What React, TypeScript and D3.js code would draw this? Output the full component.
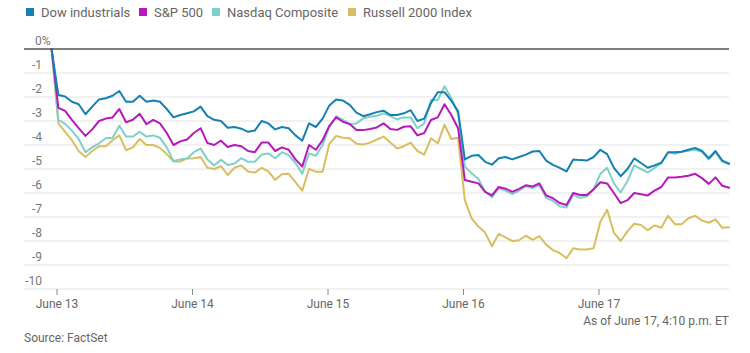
import React from "react";
import * as d3 from "d3";

const SERIES_NAMES = ["Dow industrials", "S&P 500", "Nasdaq Composite", "Russell 2000 Index"];
const SERIES_COLORS = ["#1580b2", "#b718bd", "#80cfca", "#d8be5e"];

const DAY_LABELS = ["June 13", "June 14", "June 15", "June 16", "June 17"];
const Y_TICKS = [0, -1, -2, -3, -4, -5, -6, -7, -8, -9, -10];

// Sampling: first point at day -0.04, one point every 0.05 day
const T_START = -0.04;
const T_STEP = 0.05;

const DOW = [0, -1.92, -1.98, -2.2, -2.3, -2.72, -2.4, -2.1, -2.05, -1.95,
  -1.75, -2.2, -2.2, -1.95, -2.2, -2.15, -2.2, -2.5, -2.85, -2.75,
  -2.68, -2.6, -2.4, -2.8, -2.95, -3.0, -3.28, -3.25, -3.32, -3.45,
  -3.4, -3.0, -3.1, -3.35, -3.25, -3.3, -3.6, -3.82, -3.1, -3.25,
  -2.9, -2.35, -2.1, -2.15, -2.33, -2.65, -2.8, -2.72, -2.63, -2.57,
  -2.75, -2.75, -2.68, -2.55, -3.0, -2.9, -2.25, -1.8, -1.8, -2.15,
  -2.6, -4.6, -4.45, -4.42, -4.7, -4.82, -4.55, -4.5, -4.6, -4.5,
  -4.4, -4.27, -4.25, -4.65, -4.83, -4.95, -5.1, -4.6, -4.63, -4.65,
  -4.5, -4.2, -4.38, -4.95, -5.3, -5.0, -4.56, -4.75, -4.95, -4.85,
  -4.74, -4.3, -4.3, -4.28, -4.2, -4.12, -4.25, -4.55, -4.25, -4.65, -4.78];

const SP500 = [0, -2.45, -2.58, -2.95, -3.3, -3.62, -3.35, -3.0, -2.9, -2.85,
  -2.5, -3.05, -2.95, -2.7, -3.13, -2.95, -3.1, -3.5, -4.0, -3.85,
  -3.77, -3.5, -3.3, -3.92, -4.0, -3.82, -4.08, -4.0, -4.05, -4.25,
  -4.3, -3.9, -3.9, -4.25, -4.1, -4.2, -4.6, -4.9, -4.0, -4.2,
  -3.8, -3.2, -2.85, -3.03, -3.13, -3.38, -3.38, -3.33, -3.27, -3.1,
  -3.33, -3.37, -3.24, -3.22, -3.6, -3.5, -2.96, -2.85, -2.3, -2.75,
  -3.3, -5.46, -5.53, -5.6, -5.95, -6.1, -5.75, -5.82, -5.95, -5.83,
  -5.68, -5.73, -5.6, -6.1, -6.22, -6.42, -6.5, -6.0, -6.08, -6.08,
  -5.85, -5.55, -5.6, -6.0, -6.42, -6.3, -6.0, -6.05, -6.1, -5.9,
  -5.75, -5.35, -5.35, -5.32, -5.28, -5.2, -5.38, -5.62, -5.35, -5.7, -5.78];

const NASDAQ = [0, -2.95, -3.12, -3.4, -3.75, -4.3, -4.1, -3.93, -3.72, -3.7,
  -3.2, -3.65, -3.65, -3.45, -3.65, -3.6, -3.7, -4.1, -4.67, -4.6,
  -4.56, -4.3, -4.15, -4.6, -4.85, -4.62, -4.83, -4.77, -4.55, -4.7,
  -4.7, -4.4, -4.35, -4.55, -4.3, -4.42, -4.75, -5.2, -4.35, -4.45,
  -4.0, -3.25, -2.8, -2.95, -3.12, -3.1, -2.89, -2.82, -2.78, -2.68,
  -2.8, -2.93, -2.85, -2.85, -3.3, -3.1, -2.13, -2.13, -1.55, -2.05,
  -2.7, -4.9, -5.18, -5.42, -5.95, -6.18, -5.8, -5.9, -6.05, -5.9,
  -5.72, -5.8, -5.68, -6.2, -6.33, -6.55, -6.6, -6.08, -6.2, -6.15,
  -5.85, -5.2, -4.95, -5.6, -5.98, -5.5, -4.85, -5.0, -5.15, -4.95,
  -4.76, -4.3, -4.37, -4.28, -4.24, -4.2, -4.28, -4.6, -4.3, -4.7, -4.78];

const RUSSELL = [0, -3.1, -3.45, -3.8, -4.25, -4.5, -4.25, -4.05, -4.05, -3.8,
  -3.6, -4.22, -4.1, -3.75, -4.0, -4.0, -4.12, -4.38, -4.69, -4.69,
  -4.56, -4.55, -4.5, -4.95, -5.0, -4.88, -5.25, -4.95, -4.85, -5.1,
  -5.15, -4.95, -5.1, -5.45, -5.22, -5.2, -5.55, -5.9, -5.0, -5.11,
  -5.11, -3.95, -3.62, -3.7, -3.72, -3.95, -3.98, -3.9, -3.77, -3.65,
  -3.9, -4.15, -4.05, -3.9, -4.25, -4.4, -3.72, -3.93, -3.15, -3.75,
  -3.7, -6.3, -7.06, -7.4, -7.65, -8.22, -7.7, -7.85, -8.0, -7.97,
  -7.78, -7.95, -7.8, -8.15, -8.38, -8.5, -8.72, -8.3, -8.35, -8.35,
  -8.3, -7.2, -6.7, -7.65, -8.0, -7.6, -7.28, -7.33, -7.55, -7.35,
  -7.45, -6.95, -7.3, -7.3, -7.05, -6.95, -7.15, -7.24, -7.1, -7.45, -7.43];

const SERIES = [DOW, SP500, NASDAQ, RUSSELL];
const DRAW_ORDER = [3, 2, 1, 0];

const FONT = "Roboto, 'Liberation Sans', Arial, sans-serif";

export default function App() {
  const W = 750, H = 353;
  const left = 24, right = 729;
  const x = d3.scaleLinear().domain([0, 5]).range([57, 57 + 135.5 * 5]);
  const y = d3.scaleLinear().domain([0, -10]).range([49, 289]);

  const line = d3.line<number>()
    .x((_, i) => x(T_START + i * T_STEP))
    .y((d) => y(d))
    .curve(d3.curveLinear);

  const legendX = [26, 139, 212, 348];

  return (
    <svg width={W} height={H} style={{ position: "absolute", left: 0, top: 0, background: "#fff" }} fontFamily={FONT}>
      {/* legend */}
      {SERIES_NAMES.map((name, i) => (
        <g key={name}>
          <rect x={legendX[i]} y={8} width={8} height={8} fill={SERIES_COLORS[i]} />
          <text x={legendX[i] + 15} y={16.5} fontSize={13} fill="#666">{name}</text>
        </g>
      ))}

      {/* gridlines */}
      {Y_TICKS.filter((t) => t !== 0).map((t) => (
        <line key={t} x1={left} x2={right} y1={y(t)} y2={y(t)} stroke="#e3e3e3" strokeWidth={1} />
      ))}

      {/* y labels */}
      {Y_TICKS.map((t) => (
        t === 0 ? (
          <text key={t} x={35} y={y(t) - 4.5} fontSize={12} fill="#777">0%</text>
        ) : (
          <text key={t} x={42} y={y(t) - 4.5} fontSize={12} fill="#777" textAnchor="end">{String(t)}</text>
        )
      ))}

      {/* x ticks */}
      {DAY_LABELS.map((d, i) => (
        <g key={d}>
          <line x1={x(i)} x2={x(i)} y1={289} y2={295} stroke="#888" strokeWidth={1} />
          <text x={x(i)} y={307.5} fontSize={12} fill="#666" textAnchor="middle">{d}</text>
        </g>
      ))}

      {/* lines */}
      {DRAW_ORDER.map((si) => (
        <path key={si} d={line(SERIES[si]) || ""} fill="none" stroke={SERIES_COLORS[si]}
          strokeWidth={2} strokeLinejoin="round" strokeLinecap="round" />
      ))}

      {/* zero line */}
      <line x1={left} x2={right} y1={y(0)} y2={y(0)} stroke="#555" strokeWidth={1.5} />

      <text x={729} y={325} fontSize={12} fill="#666" textAnchor="end">As of June 17, 4:10 p.m. ET</text>
      <text x={24} y={342} fontSize={12} fill="#666">Source: FactSet</text>
    </svg>
  );
}
